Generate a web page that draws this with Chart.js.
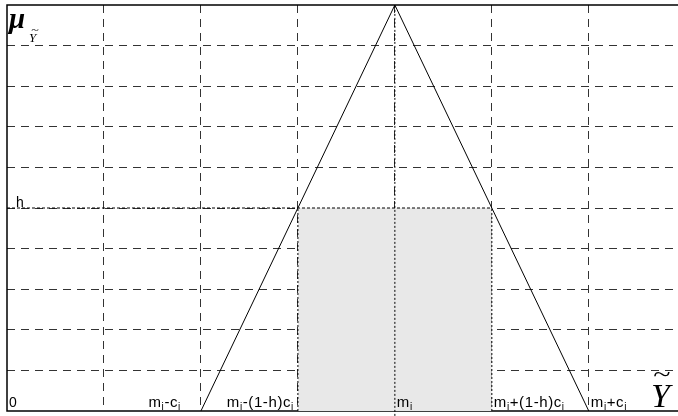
<!DOCTYPE html>
<html>
<head>
<meta charset="utf-8">
<script src="https://cdn.jsdelivr.net/npm/chart.js@4.4.1/dist/chart.umd.min.js"></script>
<style>
  html, body { margin: 0; padding: 0; background: #fff; }
  #wrap { width: 678px; height: 416px; }
</style>
</head>
<body>
<div id="wrap"><canvas id="chart"></canvas></div>
<script>
// grid (x in steps of c_i/2, y in tenths of membership)
const xTicks = [1, 2, 3, 4, 5, 6];
const yTicks = [1, 2, 3, 4, 5, 6, 7, 8, 9];
const xMax = 6.92;
const yMax = 10;

// triangular membership function
const triangleX = [2, 4, 6];
const triangleY = [0, 10, 0];

// h-level cut
const hLevel = 5;
const cutX = [3, 5];
const centerX = 4;

// labels under the axis, and the tick each one belongs to
const labelTicks = [2, 3, 4, 5, 6];
const labelTexts = ['m_i-c_i', 'm_i-(1-h)c_i', 'm_i', 'm_i+(1-h)c_i', 'm_i+c_i'];

const GRID = '#333';
const SANS = '"Liberation Sans", Arial, sans-serif';
const SERIF = '"Liberation Serif", "Times New Roman", serif';

const pts = (xs, ys) => xs.map((x, i) => ({ x: x, y: ys[i] }));

// draws "m_i-c_i" style text, "_i" becomes a subscript
function drawRich(ctx, str, x, y, align) {
    const parts = str.split(/(_i)/).filter(s => s.length);
    const base = '15px ' + SANS, sub = '10px ' + SANS;
    const gap = 0.6;
    const widths = parts.map(p => {
        ctx.font = p === '_i' ? sub : base;
        const t = p === '_i' ? 'i' : p;
        return ctx.measureText(t).width + gap * t.length;
    });
    const w = widths.reduce((s, v) => s + v, 0);
    let cx = align === 'right' ? x - w : x;
    parts.forEach((p, k) => {
        const isSub = p === '_i';
        ctx.font = isSub ? sub : base;
        const t = isSub ? 'i' : p;
        let tx = cx;
        for (const ch of t) {
            ctx.fillText(ch, tx, isSub ? y + 3 : y);
            tx += ctx.measureText(ch).width + gap;
        }
        cx += widths[k];
    });
}

const annotations = {
    id: 'annotations',
    beforeDatasetsDraw(chart) {
        const { ctx, chartArea: a } = chart;
        ctx.save();
        ctx.strokeStyle = '#000';
        ctx.lineWidth = 1.5;
        ctx.beginPath();
        ctx.moveTo(a.right, a.top);
        ctx.lineTo(a.left, a.top);
        ctx.lineTo(a.left, a.bottom);
        ctx.lineTo(a.right, a.bottom);
        ctx.stroke();
        ctx.restore();
    },
    afterDatasetsDraw(chart) {
        const { ctx, chartArea: a, scales: { x, y } } = chart;
        ctx.save();
        ctx.fillStyle = '#000';
        ctx.textBaseline = 'alphabetic';

        labelTexts.forEach((t, i) => {
            const px = x.getPixelForValue(labelTicks[i]);
            if (i === 0) drawRich(ctx, t, px - 20, a.bottom - 4, 'right');
            else if (i === 1) drawRich(ctx, t, px - 4, a.bottom - 4, 'right');
            else drawRich(ctx, t, px + 2, a.bottom - 4, 'left');
        });

        ctx.font = '14px ' + SANS;
        ctx.fillText('0', a.left + 2, a.bottom - 4);
        ctx.fillText('h', a.left + 9, y.getPixelForValue(hLevel) - 1);

        // mu with subscript Y-tilde
        ctx.font = 'bold italic 29px ' + SERIF;
        ctx.fillText('\u03bc', a.left + 2, a.top + 23);
        ctx.font = 'italic 13px ' + SERIF;
        ctx.fillText('Y', a.left + 22, a.top + 37);
        ctx.save();
        ctx.translate(a.left + 28, a.top + 28);
        ctx.scale(1.4, 1);
        ctx.font = '10px ' + SERIF;
        ctx.textAlign = 'center';
        ctx.fillText('~', 0, 0);
        ctx.restore();

        // big Y-tilde at the end of the axis
        ctx.font = 'italic 34px ' + SERIF;
        ctx.fillText('Y', a.right - 27, a.bottom - 4);
        ctx.save();
        ctx.translate(a.right - 16, a.bottom - 30);
        ctx.scale(1.6, 1);
        ctx.font = '20px ' + SERIF;
        ctx.textAlign = 'center';
        ctx.fillText('~', 0, 0);
        ctx.restore();
        ctx.restore();
    }
};

const dotted = (data, dash) => ({
    data: data, borderColor: '#000', borderWidth: 1, borderDash: dash,
    pointRadius: 0, fill: false, clip: false, order: 1
});

new Chart(document.getElementById('chart'), {
    type: 'line',
    data: {
        datasets: [
            {
                data: pts(cutX, [hLevel, hLevel]),
                borderWidth: 0, borderColor: 'rgba(0,0,0,0)',
                backgroundColor: '#e8e8e8', fill: 'origin', pointRadius: 0, order: 3
            },
            dotted(pts([0, cutX[1]], [hLevel, hLevel]), [3, 2]),
            dotted(pts([cutX[0], cutX[0]], [0, hLevel]), [2, 2]),
            dotted(pts([cutX[1], cutX[1]], [0, hLevel]), [2, 2]),
            dotted(pts([centerX, centerX], [-0.12, yMax]), [2, 2]),
            {
                data: pts(triangleX, triangleY),
                borderColor: '#000', borderWidth: 1, pointRadius: 0,
                fill: false, tension: 0, order: 0
            }
        ]
    },
    options: {
        responsive: true,
        maintainAspectRatio: false,
        animation: false,
        events: [],
        layout: { padding: { left: 7, top: 5, right: 0, bottom: 5 } },
        plugins: { legend: { display: false }, tooltip: { enabled: false } },
        scales: {
            x: {
                type: 'linear', min: 0, max: xMax,
                afterBuildTicks: s => { s.ticks = xTicks.map(v => ({ value: v })); },
                ticks: { display: false },
                grid: { color: GRID, lineWidth: 1, drawTicks: false },
                border: { display: false, dash: [8, 6] }
            },
            y: {
                type: 'linear', min: 0, max: yMax,
                afterBuildTicks: s => { s.ticks = yTicks.map(v => ({ value: v })); },
                ticks: { display: false },
                grid: { color: GRID, lineWidth: 1, drawTicks: false },
                border: { display: false, dash: [8, 6] }
            }
        }
    },
    plugins: [annotations]
});
</script>
</body>
</html>
